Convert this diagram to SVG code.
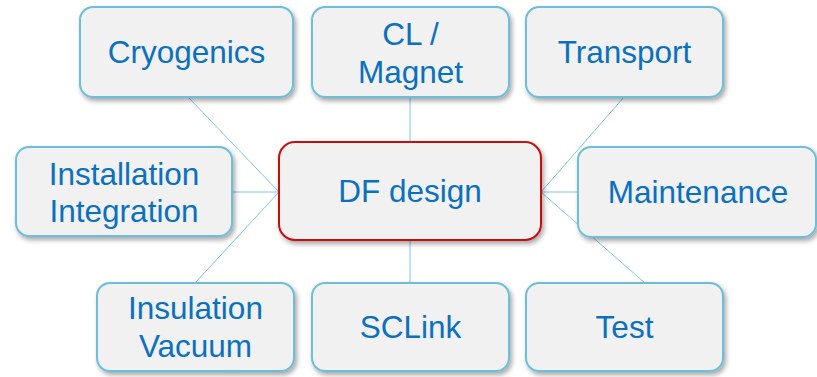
<svg xmlns="http://www.w3.org/2000/svg" width="817" height="377" viewBox="0 0 817 377">
<style>
.box{fill:#f1f1f1;stroke:#6cbedb;stroke-width:2;filter:url(#sh)}
.main{fill:#f1f1f1;stroke:#c8100e;stroke-width:2;filter:url(#sh)}
.t{font-family:"Liberation Sans",Arial,sans-serif;font-size:31.5px;fill:#0a70c0;text-anchor:middle}
.c line{stroke:#7cc6e2;stroke-width:1}
</style>
<defs>
<filter id="sh" x="-10%" y="-10%" width="125%" height="135%">
<feDropShadow dx="2" dy="3" stdDeviation="2.5" flood-color="#000" flood-opacity="0.35"/>
</filter>
</defs>
<rect width="817" height="377" fill="#fff"/>
<g class="c" id="connectors">
<line x1="188" y1="97" x2="279" y2="192"/>
<line x1="232" y1="192" x2="279" y2="192"/>
<line x1="195" y1="283" x2="279" y2="192"/>
<line x1="410" y1="97" x2="410" y2="142"/>
<line x1="410" y1="240" x2="410" y2="283"/>
<line x1="624" y1="97" x2="541" y2="192"/>
<line x1="578" y1="192" x2="541" y2="192"/>
<line x1="645" y1="283" x2="541" y2="192"/>
</g>
<g id="df"><rect class="main" x="279" y="142" width="262" height="98" rx="16"/><text class="t" x="410" y="202">DF design</text></g>
<g id="cryo"><rect class="box" x="80" y="7" width="213" height="90" rx="13"/><text class="t" x="186.5" y="63">Cryogenics</text></g>
<g id="clmagnet"><rect class="box" x="312" y="7" width="197" height="90" rx="13"/><text class="t" x="410.5" y="45">CL /</text><text class="t" x="410.5" y="83">Magnet</text></g>
<g id="transport"><rect class="box" x="526" y="7" width="197" height="90" rx="13"/><text class="t" x="624.5" y="63">Transport</text></g>
<g id="install"><rect class="box" x="16" y="147" width="216" height="89" rx="13"/><text class="t" x="124" y="185">Installation</text><text class="t" x="124" y="222">Integration</text></g>
<g id="maint"><rect class="box" x="578" y="147" width="238" height="90" rx="13"/><text class="t" x="698" y="203">Maintenance</text></g>
<g id="insul"><rect class="box" x="97" y="283" width="197" height="88" rx="13"/><text class="t" x="195.5" y="319">Insulation</text><text class="t" x="195.5" y="357">Vacuum</text></g>
<g id="sclink"><rect class="box" x="312" y="283" width="197" height="88" rx="13"/><text class="t" x="410.5" y="338">SCLink</text></g>
<g id="test"><rect class="box" x="526" y="283" width="197" height="88" rx="13"/><text class="t" x="624.5" y="338">Test</text></g>
</svg>
